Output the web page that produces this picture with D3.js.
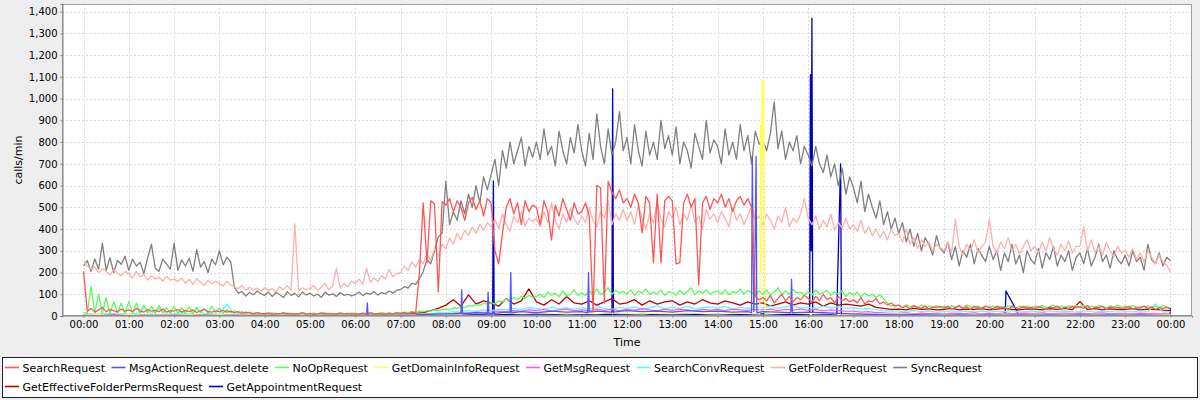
<!DOCTYPE html>
<html><head><meta charset="utf-8">
<script src="https://cdn.jsdelivr.net/npm/d3@7"></script>
<style>
html,body{margin:0;padding:0;background:#eeeeee;}
svg{display:block;}
text{font-family:"DejaVu Sans",sans-serif;fill:#000;}
</style></head><body>
<svg id="chart" width="1200" height="400"></svg>
<script>
// ---------- DATA ----------
const seriesNames = ["SearchRequest","MsgActionRequest.delete","NoOpRequest","GetDomainInfoRequest","GetMsgRequest","SearchConvRequest","GetFolderRequest","SyncRequest","GetEffectiveFolderPermsRequest","GetAppointmentRequest"];
const xTickLabels = ["00:00","01:00","02:00","03:00","04:00","05:00","06:00","07:00","08:00","09:00","10:00","11:00","12:00","13:00","14:00","15:00","16:00","17:00","18:00","19:00","20:00","21:00","22:00","23:00","00:00"];
const yTickValues = [0,100,200,300,400,500,600,700,800,900,1000,1100,1200,1300,1400];

// 5-minute samples, 00:00 .. 24:00
const syncRequest = [
230,255,205,262,215,335,210,268,200,255,238,275,
210,262,230,248,195,268,330,220,205,262,240,215,
335,210,258,230,265,205,305,225,250,200,262,235,
300,235,270,250,130,105,112,92,108,98,115,102,
95,110,90,108,98,85,112,95,104,88,110,97,
105,92,100,86,110,96,102,90,108,95,100,93,
98,110,94,105,100,112,96,108,102,115,105,118,
122,135,128,150,145,170,205,260,240,300,365,380,
620,420,480,440,530,470,560,500,600,520,640,580,
650,720,600,760,680,800,700,760,820,690,780,730,
800,720,860,740,780,690,850,760,700,820,750,880,
760,690,840,720,930,780,700,860,740,800,940,760,
820,700,880,760,690,850,740,800,720,900,770,830,
740,870,700,800,760,680,840,780,720,900,750,810,
780,700,860,740,800,720,880,760,830,700,850,790,
810,760,840,985,770,850,720,800,760,830,700,780,
740,690,780,700,660,740,640,700,600,680,560,640,
590,520,620,480,560,500,450,530,420,480,400,450,
380,430,340,400,320,380,300,360,330,280,370,310,
290,340,260,320,230,300,270,330,240,310,280,250,
320,260,300,210,290,250,330,240,280,200,300,260,
240,310,220,290,260,320,230,280,250,300,210,270,
290,240,310,230,270,330,250,280,220,300,260,240,
280,230,300,250,270,210,330,260,240,290,230,270,
255];

const getFolderRequest = [
250,230,215,225,200,218,205,190,212,198,185,205,
195,175,205,180,190,165,185,170,178,160,182,165,
170,158,175,150,168,145,172,155,140,165,148,160,
150,138,160,142,135,125,140,118,132,120,128,115,
130,118,125,112,135,120,140,118,424,115,130,122,
125,140,118,132,150,120,138,220,128,150,135,160,
150,170,145,220,155,175,160,185,170,215,180,195,
200,230,210,250,225,260,240,285,255,310,275,330,
310,360,330,380,350,395,370,410,380,420,395,430,
410,445,400,470,420,390,460,430,480,415,450,435,
450,410,480,430,520,440,400,470,430,495,445,420,
460,430,500,440,410,480,450,530,420,470,440,490,
440,480,420,510,450,400,470,430,520,445,410,480,
450,500,420,470,440,510,430,460,400,490,445,470,
430,480,450,410,500,440,470,420,460,510,440,460,
420,470,440,400,460,430,500,410,450,430,470,540,
450,420,460,400,440,410,470,395,430,405,450,400,
420,390,440,380,410,370,400,360,390,350,400,370,
380,340,400,330,360,310,350,320,340,300,330,315,
300,340,290,445,320,280,330,300,350,290,320,340,
445,320,290,340,310,360,300,330,285,320,350,300,
320,290,340,300,360,310,280,330,300,345,290,320,
320,410,300,350,290,320,280,340,300,270,320,290,
300,270,310,260,290,250,300,270,240,280,250,235,
200];

const searchRequest = [
205,22,35,18,28,40,20,30,25,18,32,22,
28,20,35,24,18,30,22,26,20,32,18,25,
22,30,18,26,20,28,16,24,30,20,18,24,
20,26,18,22,15,20,12,18,14,10,16,12,
10,14,8,12,10,15,9,12,8,11,14,9,
12,8,10,14,9,12,10,8,13,10,12,9,
11,8,12,10,14,9,12,10,8,12,10,14,
12,15,10,18,14,200,520,245,530,515,110,525,
510,540,480,530,500,440,520,545,490,530,460,540,
520,300,240,380,500,540,470,520,420,530,480,510,
500,420,530,480,350,510,460,540,490,440,520,470,
480,520,460,20,600,590,60,620,570,540,580,520,
540,500,560,520,382,550,520,245,560,244,530,550,
530,240,245,520,560,500,540,143,520,550,490,540,
520,560,500,540,480,530,550,510,540,500,90,75,
85,70,95,60,80,100,70,90,65,85,75,95,
80,65,90,70,100,75,85,60,90,70,80,65,
75,60,85,55,70,65,80,55,65,50,60,45,
50,38,45,32,48,40,35,46,30,42,38,44,
36,45,32,40,48,35,42,30,44,38,34,46,
40,32,46,36,42,30,45,38,34,44,36,40,
34,44,38,30,42,36,46,32,40,35,44,38,
42,35,48,32,40,38,44,30,42,36,40,34,
38,44,32,40,36,46,34,42,30,38,35,40,
30];

const noOpRequest = [
18,12,135,15,101,14,84,12,66,15,59,13,
66,14,59,12,51,15,45,12,48,14,40,12,
45,13,38,15,42,12,40,14,35,12,44,15,
38,12,30,14,25,12,20,10,18,12,15,10,
12,10,15,8,12,10,14,9,12,10,15,11,
10,13,9,12,15,10,12,9,14,11,10,13,
12,10,14,11,16,12,10,15,12,14,11,16,
14,18,15,20,17,22,20,25,22,28,25,30,
32,28,38,35,42,38,48,44,52,48,58,55,
62,55,70,65,78,70,85,75,90,80,95,85,
90,100,85,110,95,105,88,115,92,100,120,95,
105,95,115,100,125,98,110,130,100,118,105,112,
100,120,95,115,105,125,98,110,102,120,95,112,
108,95,118,100,112,130,98,115,105,120,100,110,
115,100,120,98,112,105,125,100,118,108,95,115,
100,120,95,110,130,98,115,100,122,105,110,98,
112,95,120,100,108,118,95,110,100,115,90,108,
95,110,88,105,92,100,85,98,80,60,45,50,
48,40,52,42,46,38,50,42,45,38,48,40,
44,38,48,40,45,36,50,42,38,46,40,44,
40,46,38,44,36,48,42,38,45,40,47,38,
44,38,48,40,42,50,38,44,40,46,42,48,
42,50,38,45,40,48,44,38,46,42,50,40,
46,40,48,38,44,42,46,38,44,40,48,42,
38];

// 10-minute samples, 00:00 .. 24:00
const getEffectiveFolderPermsRequest = [
5,4,6,3,5,4, 6,4,5,3,5,4, 4,6,3,5,4,6, 3,5,4,3,5,4,
4,3,5,4,3,5, 4,5,3,4,6,4, 5,4,6,5,7,8, 8,10,12,15,25,35,
50,75,45,97,55,70, 60,45,80,55,70,125, 65,50,75,55,90,60, 55,70,50,65,80,55,
60,75,50,70,55,65, 70,50,65,55,75,60, 55,70,60,50,65,55, 60,45,55,65,50,60,
55,65,45,60,50,55, 50,45,55,40,35,30, 32,28,35,30,33,28, 30,35,28,32,30,34,
28,32,35,30,28,33, 32,28,34,30,35,29, 66,30,34,28,33,30, 30,34,28,32,30,27,
25];

const searchConvRequest = [
5,10,8,12,6,10, 8,12,40,10,35,8, 10,15,8,30,12,10, 8,55,6,5,6,4,
5,4,6,5,4,6, 4,6,5,4,5,6, 5,4,6,5,6,8, 6,8,7,10,12,15,
15,20,18,25,22,28, 25,32,28,35,30,38, 35,30,40,33,38,30, 38,32,42,35,30,40,
35,42,30,38,45,33, 40,35,45,32,38,42, 36,44,32,40,35,42, 38,45,35,42,48,36,
40,34,45,38,42,35, 38,32,35,28,25,22, 22,18,25,20,22,18, 20,24,18,22,19,23,
18,22,20,25,18,21, 22,18,24,20,23,19, 20,24,18,22,20,25, 22,19,24,20,55,18,
20];

const getMsgRequest = [
4,6,3,5,8,4, 5,3,6,4,5,3, 4,6,3,5,4,3, 3,5,4,3,4,3,
2,3,2,4,3,2, 3,2,4,3,2,3, 3,4,3,5,4,5, 4,6,5,8,7,10,
10,12,15,14,18,16, 18,22,20,25,22,28, 25,30,22,28,32,24, 28,24,32,26,30,25,
30,26,34,28,24,32, 26,32,28,24,30,27, 30,25,32,28,26,30, 28,32,25,30,27,33,
26,30,24,28,25,22, 22,18,20,16,14,12, 12,14,10,13,11,12, 10,13,11,12,14,10,
12,10,14,11,12,13, 11,14,10,12,13,11, 13,11,12,14,10,12, 12,10,13,11,12,10,
10];

// irregularly sampled series: minute of day / calls per minute
const getDomainInfoMinutes = [0,20,40,60,80,100,120,140,160,180,200,220,240,260,280,300,320,340,360,380,400,420,440,460,480,500,520,540,560,580,600,620,640,660,680,700,720,740,760,780,800,820,840,860,880,896,897,898,899,900,901,902,903,920,940,960,980,1000,1020,1040,1060,1080,1100,1120,1140,1160,1180,1200,1220,1240,1260,1280,1300,1320,1340,1360,1380,1400,1420,1440];
const getDomainInfoValues  = [5,6,4,6,5,4,6,5,4,5,4,3,4,3,4,3,4,3,4,3,4,5,6,8,10,9,12,10,13,11,14,12,10,13,11,14,12,10,13,11,14,12,10,13,12,10,880,200,1087,700,1080,400,10,12,13,11,12,10,9,8,7,8,7,6,7,6,7,6,7,6,7,6,7,6,7,6,7,6,7,6];

const msgActionMinutes = [0,20,40,60,80,100,120,140,160,180,200,220,240,260,280,300,320,340,360,375,376,377,400,420,440,460,480,500,501,502,520,535,536,537,560,565,566,567,580,600,620,640,660,668,669,670,680,700,720,740,760,780,800,820,840,860,880,885,886,887,888,889,890,891,892,900,920,937,938,939,960,980,1000,1020,1040,1060,1080,1100,1120,1140,1160,1180,1200,1220,1240,1260,1280,1300,1320,1340,1360,1380,1400,1420,1440];
const msgActionValues  = [3,2,4,2,3,2,4,2,3,2,3,2,3,2,3,2,3,2,3,3,60,3,3,4,5,8,10,12,120,10,15,12,110,10,18,15,200,15,20,15,22,18,20,15,200,18,22,18,25,20,22,18,25,20,22,18,20,15,734,350,20,150,420,734,15,20,18,15,170,15,18,15,12,10,8,6,5,6,5,4,5,4,5,4,5,4,5,4,5,4,5,4,5,4,3];

const getAppointmentMinutes = [0,30,60,90,120,150,180,210,240,270,300,330,360,390,420,450,480,510,540,542,543,544,570,600,630,660,690,700,701,702,720,750,780,810,840,870,900,930,960,962,963,964,965,966,990,998,999,1003,1004,1020,1050,1080,1110,1140,1170,1200,1221,1222,1237,1238,1250,1280,1310,1340,1370,1400,1430,1439,1440];
const getAppointmentValues  = [0,2,0,2,0,1,0,2,0,1,0,2,0,1,2,3,5,6,8,8,620,6,8,10,8,10,8,8,1045,8,10,8,10,8,10,8,10,8,8,10,1110,300,1370,5,6,5,166,700,2,4,3,2,3,2,3,2,3,115,20,3,3,2,3,2,3,2,3,3,37];

// ---------- STYLE ----------
const seriesColors = ["#FF5555","#5555FF","#55FF55","#FFFF55","#FF55FF","#55FFFF","#FFAFAF","#808080","#C00000","#0000C0"];

// ---------- BUILD ----------
const regular = (arr, step) => arr.map((v, i) => ({t: i * step, v}));
const paired = (ts, vs) => ts.map((t, i) => ({t, v: vs[i]}));
const seriesPoints = [
  regular(searchRequest, 5),
  paired(msgActionMinutes, msgActionValues),
  regular(noOpRequest, 5),
  paired(getDomainInfoMinutes, getDomainInfoValues),
  regular(getMsgRequest, 10),
  regular(searchConvRequest, 10),
  regular(getFolderRequest, 5),
  regular(syncRequest, 5),
  regular(getEffectiveFolderPermsRequest, 10),
  paired(getAppointmentMinutes, getAppointmentValues)
];

const plot = {left: 62, top: 4, right: 1192, bottom: 316};
const x = d3.scaleLinear().domain([-28.5, 1468.5]).range([plot.left, plot.right]);
const y = d3.scaleLinear().domain([0, 1435]).range([plot.bottom, plot.top]);

const svg = d3.select("#chart");
svg.append("rect").attr("width", 1200).attr("height", 400).attr("fill", "#eeeeee");
svg.append("rect").attr("x", plot.left).attr("y", plot.top)
  .attr("width", plot.right - plot.left).attr("height", plot.bottom - plot.top).attr("fill", "#ffffff");

svg.append("defs").append("clipPath").attr("id", "clip").append("rect")
  .attr("x", plot.left).attr("y", plot.top)
  .attr("width", plot.right - plot.left).attr("height", plot.bottom - plot.top);

// grid
const hourTicks = xTickLabels.map((_, i) => i * 60);
const grid = svg.append("g").attr("shape-rendering", "crispEdges")
  .attr("stroke", "#dadada").attr("stroke-dasharray", "2,2").attr("stroke-width", 1);
grid.selectAll("line.v").data(hourTicks).join("line")
  .attr("x1", d => Math.round(x(d)) + 0.5).attr("x2", d => Math.round(x(d)) + 0.5)
  .attr("y1", plot.top).attr("y2", plot.bottom);
grid.selectAll("line.h").data(yTickValues.filter(d => d > 0)).join("line")
  .attr("y1", d => Math.round(y(d)) + 0.5).attr("y2", d => Math.round(y(d)) + 0.5)
  .attr("x1", plot.left).attr("x2", plot.right);

// lines (reverse rendering order: first series on top)
const line = d3.line().x(d => x(d.t)).y(d => y(d.v));
const lines = svg.append("g").attr("clip-path", "url(#clip)");
for (let i = seriesPoints.length - 1; i >= 0; i--) {
  lines.append("path").datum(seriesPoints[i])
    .attr("fill", "none").attr("stroke", seriesColors[i]).attr("stroke-width", 1.3)
    .attr("stroke-linejoin", "round").attr("d", line);
}

// outline
svg.append("rect").attr("x", plot.left + 0.5).attr("y", plot.top + 0.5)
  .attr("width", plot.right - plot.left - 1).attr("height", plot.bottom - plot.top - 1)
  .attr("fill", "none").attr("stroke", "#a0a0a0");

// axes
const yAxis = d3.axisLeft(y).tickValues(yTickValues).tickSize(2).tickPadding(3).tickFormat(d3.format(","));
const gy = svg.append("g").attr("transform", `translate(${plot.left + 0.5},0)`).call(yAxis);
const xAxis = d3.axisBottom(x).tickValues(hourTicks).tickSize(2).tickPadding(3).tickFormat((d, i) => xTickLabels[i]);
const gx = svg.append("g").attr("transform", `translate(0,${plot.bottom - 0.5})`).call(xAxis);
[gx, gy].forEach(g => {
  g.select(".domain").attr("stroke", "#808080");
  g.selectAll(".tick line").attr("stroke", "#808080");
  g.selectAll(".tick text").attr("font-family", "DejaVu Sans").attr("font-size", 10).attr("fill", "#000");
});

// axis labels
svg.append("text").attr("x", (plot.left + plot.right) / 2).attr("y", 346)
  .attr("text-anchor", "middle").attr("font-size", 11).text("Time");
svg.append("text").attr("transform", `translate(22,${(plot.top + plot.bottom) / 2}) rotate(-90)`)
  .attr("text-anchor", "middle").attr("font-size", 11).text("calls/min");

// legend
svg.append("rect").attr("x", 2.5).attr("y", 357.5).attr("width", 1195).attr("height", 40)
  .attr("fill", "#ffffff").attr("stroke", "#222");
const rows = [[0,1,2,3,4,5,6,7],[8,9]];
const rowY = [367.5, 386.5];
rows.forEach((row, r) => {
  let s = 5;
  row.forEach(i => {
    const g = svg.append("g");
    g.append("rect").attr("x", s).attr("y", rowY[r] - 0.8).attr("width", 14).attr("height", 1.6)
      .attr("fill", seriesColors[i]);
    const t = g.append("text").attr("x", s + 17.5).attr("y", rowY[r] + 4).attr("font-size", 11).text(seriesNames[i]);
    s = s + 17.5 + t.node().getComputedTextLength() + 6.5;
  });
});
</script>
</body></html>
